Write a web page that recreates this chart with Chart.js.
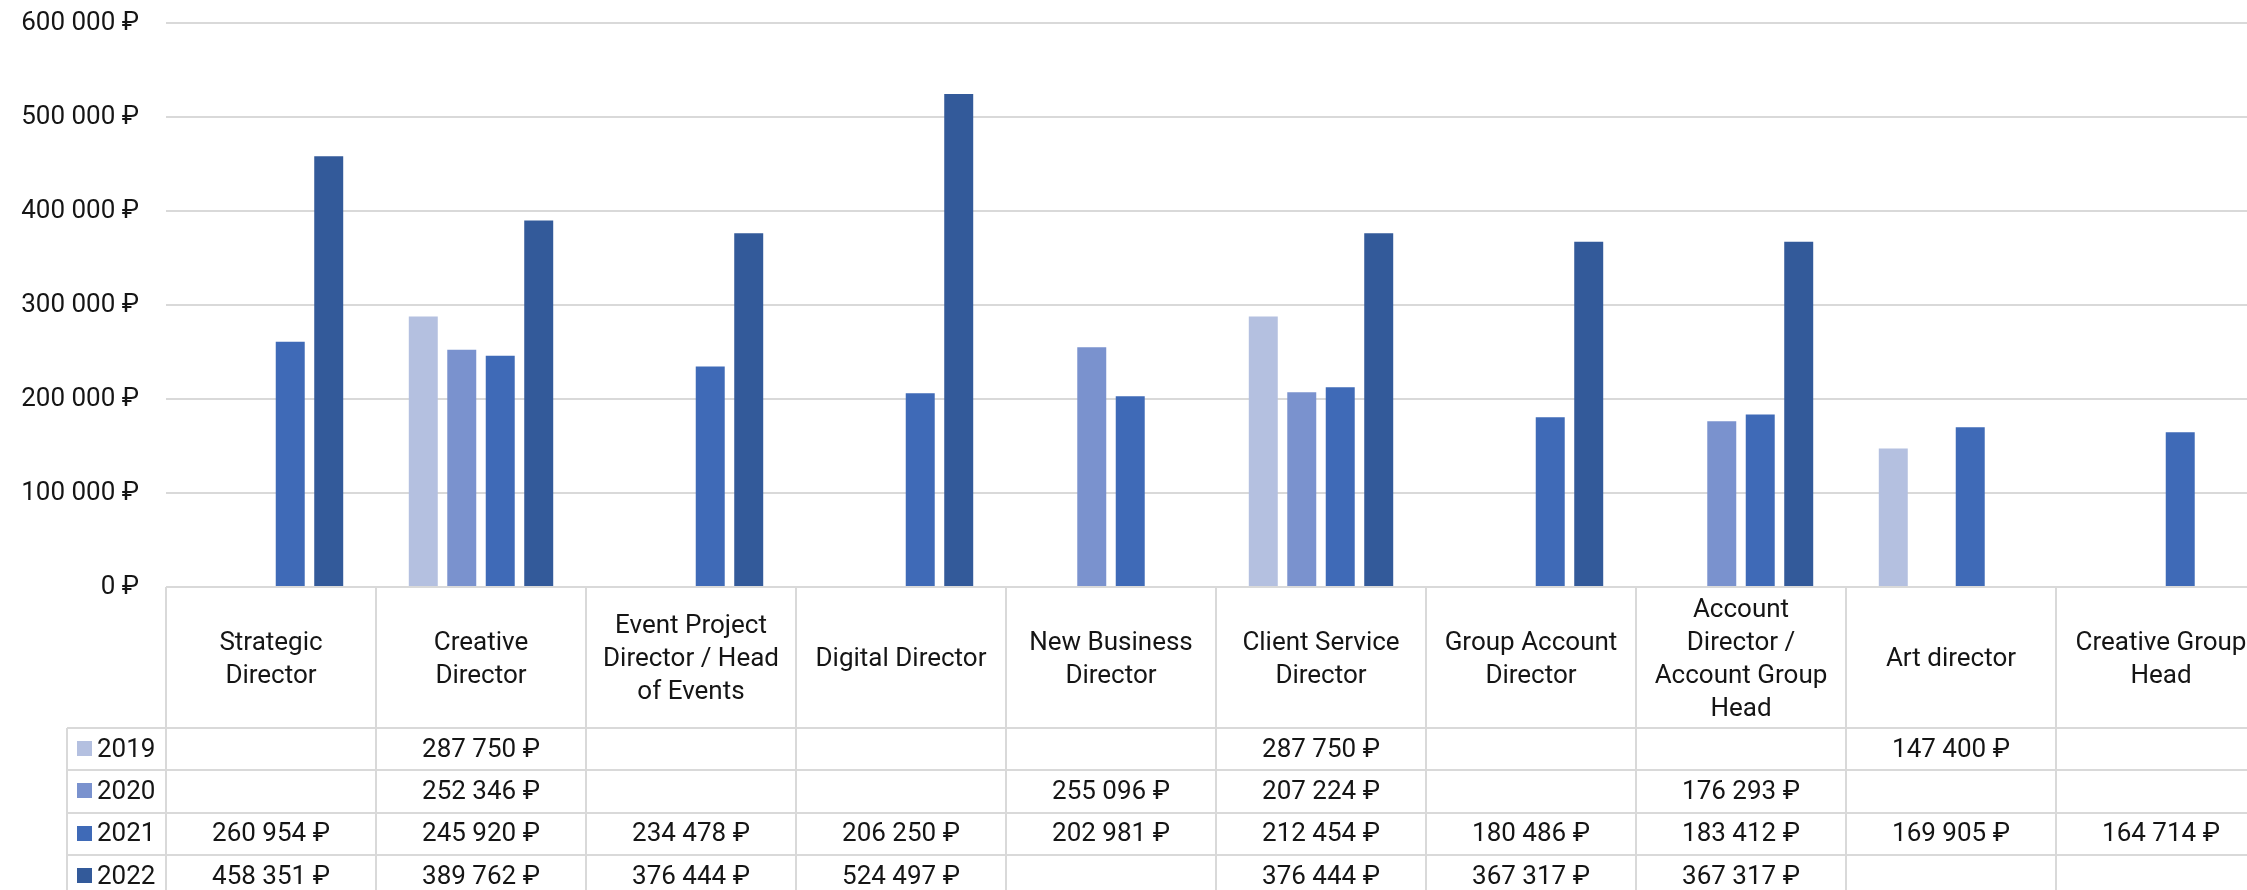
<!DOCTYPE html>
<html>
<head>
<meta charset="utf-8">
<title>Зарплаты руководителей</title>
<script src="https://cdn.jsdelivr.net/npm/chart.js@4/dist/chart.umd.min.js"></script>
<style>
  html, body { margin: 0; padding: 0; overflow: hidden; background: #fff; }
  #wrap { position: absolute; left: 0; top: 0; width: 2270px; height: 900px; }
</style>
</head>
<body>
<div id="wrap"><canvas id="c" width="2270" height="900"></canvas></div>
<script>
// Positions (multi-line category labels)
const categories = [
  ['Strategic', 'Director'],
  ['Creative', 'Director'],
  ['Event Project', 'Director / Head', 'of Events'],
  ['Digital Director'],
  ['New Business', 'Director'],
  ['Client Service', 'Director'],
  ['Group Account', 'Director'],
  ['Account', 'Director /', 'Account Group', 'Head'],
  ['Art director'],
  ['Creative Group', 'Head']
];

const years = ['2019', '2020', '2021', '2022'];

// Salary per position, rubles (null = no data for that year)
const salary2019 = [null, 287750, null, null, null, 287750, null, null, 147400, null];
const salary2020 = [null, 252346, null, null, 255096, 207224, null, 176293, null, null];
const salary2021 = [260954, 245920, 234478, 206250, 202981, 212454, 180486, 183412, 169905, 164714];
const salary2022 = [458351, 389762, 376444, 524497, null, 376444, 367317, 367317, null, null];

const yearColors = ['#B4C0E0', '#7A92CE', '#3F6AB7', '#335A9A'];

const yMin = 0;
const yMax = 600000;
const yStep = 100000;

const FONT = 'Roboto, "Liberation Sans", "DejaVu Sans", sans-serif';
const TEXT = '#151515';
const LINE = '#D9D9D9';

function rub(v) {
  return String(v).replace(/\B(?=(\d{3})+(?!\d))/g, ' ') + ' \u20BD';
}

const series = [salary2019, salary2020, salary2021, salary2022];

// Data table under the plot: legend column, one row per year
const dataTable = {
  id: 'dataTable',
  afterDraw(chart) {
    const { ctx, chartArea } = chart;
    const x = chart.scales.x;
    const n = categories.length;
    const colW = x.getPixelForValue(1) - x.getPixelForValue(0);
    const right = chartArea.right;
    const headTop = chartArea.bottom;
    const headBottom = x.bottom;
    const rowH = 42.3;
    const legendLeft = 67;
    const tableBottom = headBottom + rowH * years.length;

    ctx.save();
    ctx.strokeStyle = LINE;
    ctx.lineWidth = 2;

    // horizontal rules
    ctx.beginPath();
    for (let r = 0; r <= years.length; r++) {
      const yy = Math.round(headBottom + r * rowH);
      ctx.moveTo(legendLeft, yy);
      ctx.lineTo(right + 20, yy);
    }
    ctx.stroke();

    // vertical rules between columns
    ctx.beginPath();
    for (let i = 0; i <= n; i++) {
      const xx = Math.round(x.getPixelForValue(i) - colW / 2);
      ctx.moveTo(xx, headTop);
      ctx.lineTo(xx, tableBottom + 10);
    }
    ctx.moveTo(legendLeft, headBottom);
    ctx.lineTo(legendLeft, tableBottom + 10);
    ctx.stroke();

    ctx.font = '26px ' + FONT;
    ctx.fillStyle = TEXT;
    ctx.textBaseline = 'middle';

    chart.data.datasets.forEach((ds, r) => {
      const cy = headBottom + r * rowH + rowH / 2;
      // legend key
      ctx.fillStyle = ds.backgroundColor;
      ctx.fillRect(77, Math.round(cy - 8), 15, 15);
      ctx.fillStyle = TEXT;
      ctx.textAlign = 'left';
      ctx.fillText(ds.label, 97, cy + 1);
      // values
      ctx.textAlign = 'center';
      ds.data.forEach((v, i) => {
        if (v === null || v === undefined) return;
        ctx.fillText(rub(v), x.getPixelForValue(i), cy + 1);
      });
    });
    ctx.restore();
  }
};

new Chart(document.getElementById('c'), {
  type: 'bar',
  data: {
    labels: categories,
    datasets: years.map((y, k) => ({
      label: y,
      data: series[k],
      backgroundColor: yearColors[k],
      borderWidth: 0,
      categoryPercentage: 0.733,
      barPercentage: 0.753
    }))
  },
  options: {
    responsive: false,
    animation: false,
    devicePixelRatio: 1,
    layout: { padding: { top: 0, right: 4, bottom: 172, left: 0 } },
    plugins: {
      legend: { display: false },
      title: { display: false },
      tooltip: { enabled: false }
    },
    scales: {
      x: {
        grid: { display: false },
        border: { display: false },
        ticks: {
          color: TEXT,
          font: { family: FONT, size: 26, lineHeight: 1.27 },
          crossAlign: 'center',
          padding: 15,
          maxRotation: 0,
          autoSkip: false
        },
        afterFit(scale) { scale.height = 141; }
      },
      y: {
        min: yMin,
        max: yMax,
        grid: { color: LINE, lineWidth: 2, drawTicks: false },
        border: { display: false },
        ticks: {
          stepSize: yStep,
          color: TEXT,
          padding: 27,
          font: { family: FONT, size: 26 },
          callback: (v) => rub(v)
        },
        afterFit(scale) {
          scale.width = 166;
          scale.paddingTop = 23;
        }
      }
    }
  },
  plugins: [dataTable]
});
</script>
</body>
</html>
